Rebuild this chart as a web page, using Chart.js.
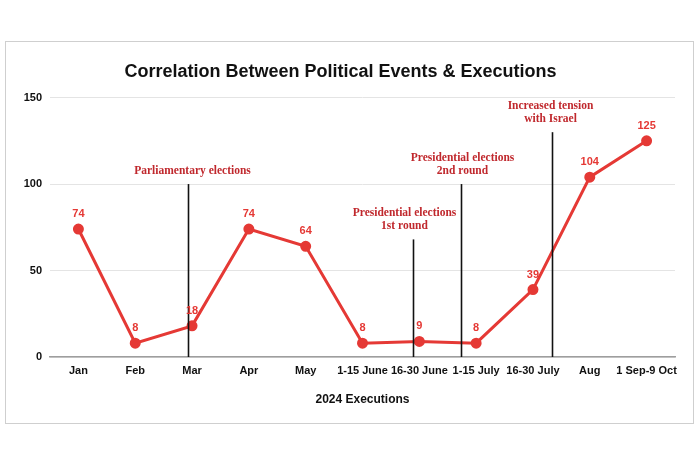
<!DOCTYPE html>
<html>
<head>
<meta charset="utf-8">
<script src="https://cdn.jsdelivr.net/npm/chart.js@4"></script>
<style>
  html, body { margin: 0; padding: 0; background: #fff; }
  #frame { position: absolute; left: 5px; top: 41px; width: 687px; height: 381px; border: 1px solid #cfcfcf; }
</style>
</head>
<body>
<div id="frame"><canvas id="chart" width="687" height="381"></canvas></div>
<script>
// data
const categories = ["Jan", "Feb", "Mar", "Apr", "May", "1-15 June", "16-30 June", "1-15 July", "16-30 July", "Aug", "1 Sep-9 Oct"]
const executions = [74, 8, 18, 74, 64, 8, 9, 8, 39, 104, 125]
const yTicks = [0, 50, 100, 150]

// political events: label lines, where they sit on the x axis (category index), how high the marker goes
const eventNames = [
  ["Parliamentary elections"],
  ["Presidential elections", "1st round"],
  ["Presidential elections", "2nd round"],
  ["Increased tension", "with Israel"],
]
const eventAt = [1.92, 5.89, 6.74, 8.34]
const eventTop = [100, 68, 100, 130]

const RED = "#e53935"
const DARK_RED = "#c0282d"

// value labels above each point
const pointLabels = {
  id: "pointLabels",
  afterDatasetsDraw(chart) {
    const ctx = chart.ctx
    const meta = chart.getDatasetMeta(0)
    ctx.save()
    ctx.font = "bold 11px 'Liberation Sans', Arial, sans-serif"
    ctx.fillStyle = RED
    ctx.textAlign = "center"
    ctx.textBaseline = "middle"
    meta.data.forEach((pt, i) => {
      ctx.fillText(String(executions[i]), pt.x, pt.y - 15)
    })
    ctx.restore()
  },
}

// vertical event markers with serif captions
// captions are nudged a little sideways like in the original
const captionShift = [4, -9, 1, -2]
const eventMarkers = {
  id: "eventMarkers",
  afterDatasetsDraw(chart) {
    const ctx = chart.ctx
    const x = chart.scales.x
    const y = chart.scales.y
    ctx.save()
    eventAt.forEach((pos, i) => {
      const px = Math.round(x.getPixelForValue(pos)) + 0.5
      const top = y.getPixelForValue(eventTop[i])
      ctx.strokeStyle = "#111"
      ctx.lineWidth = 1.6
      ctx.beginPath()
      ctx.moveTo(px, top)
      ctx.lineTo(px, y.getPixelForValue(0))
      ctx.stroke()

      ctx.font = "bold 11.5px 'Liberation Serif', 'Times New Roman', serif"
      ctx.fillStyle = DARK_RED
      ctx.textAlign = "center"
      ctx.textBaseline = "alphabetic"
      const lines = eventNames[i]
      lines.forEach((txt, j) => {
        const ly = top - 10 - (lines.length - 1 - j) * 13.5
        ctx.fillText(txt, px + captionShift[i], ly)
      })
    })
    ctx.restore()
  },
}

document.addEventListener("DOMContentLoaded", () => {
  const ctx = document.getElementById("chart").getContext("2d")
  new Chart(ctx, {
    type: "line",
    data: {
      labels: categories,
      datasets: [
        {
          data: executions,
          borderColor: RED,
          backgroundColor: RED,
          borderWidth: 3,
          pointRadius: 4,
          pointHoverRadius: 4,
          tension: 0,
        },
      ],
    },
    options: {
      responsive: false,
      animation: false,
      layout: { padding: { left: 0, right: 18, bottom: 0 } },
      plugins: {
        legend: { display: false },
        tooltip: { enabled: false },
        title: {
          display: true,
          text: "Correlation Between Political Events & Executions",
          color: "#111",
          font: { family: "'Liberation Sans', Arial, sans-serif", size: 18, weight: "bold" },
          padding: { top: 19, bottom: 15 },
        },
      },
      scales: {
        x: {
          offset: true,
          grid: { display: false, drawTicks: false },
          border: { display: true, color: "#9e9e9e", width: 1.5 },
          ticks: {
            color: "#111",
            padding: 7,
            maxRotation: 0,
            autoSkip: false,
            font: { family: "'Liberation Sans', Arial, sans-serif", size: 11, weight: "bold" },
          },
          title: {
            display: true,
            text: "2024 Executions",
            color: "#111",
            font: { family: "'Liberation Sans', Arial, sans-serif", size: 12, weight: "bold" },
            padding: { top: 0, bottom: 16 },
          },
          afterFit(scale) {
            scale.height = 66
          },
        },
        y: {
          min: 0,
          max: 150,
          afterBuildTicks(scale) {
            scale.ticks = yTicks.map((v) => ({ value: v }))
          },
          grid: { color: "#e4e4e4", drawTicks: false },
          border: { display: false },
          ticks: {
            color: "#111",
            padding: 8,
            font: { family: "'Liberation Sans', Arial, sans-serif", size: 11, weight: "bold" },
          },
          afterFit(scale) {
            scale.width = 44
          },
        },
      },
    },
    plugins: [eventMarkers, pointLabels],
  })
})
</script>
</body>
</html>
